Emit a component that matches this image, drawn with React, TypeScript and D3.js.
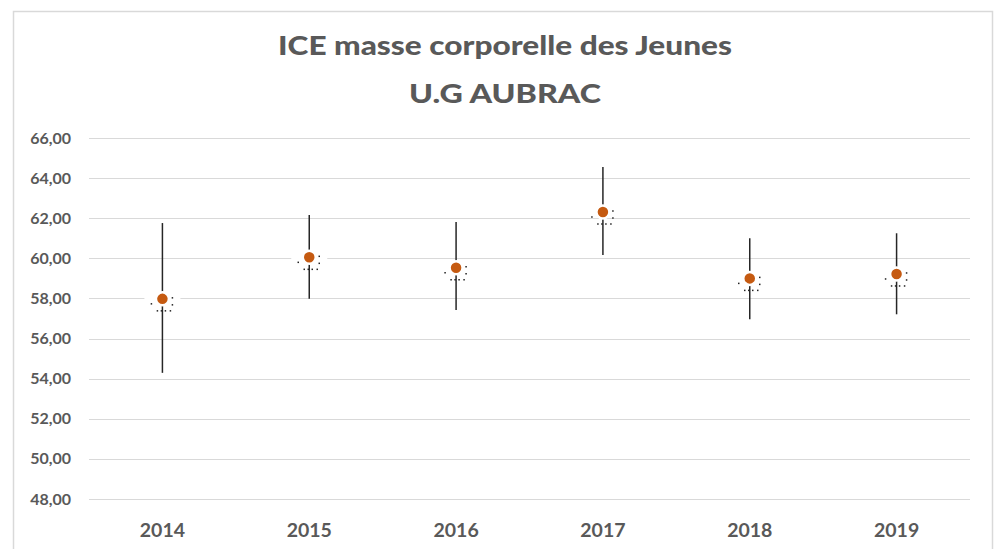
import React, { useEffect, useRef } from "react";
import * as d3 from "d3";

const years = ["2014", "2015", "2016", "2017", "2018", "2019"];
const means = [57.98, 60.05, 59.53, 62.31, 59.0, 59.22];
const lows = [54.29, 57.98, 57.43, 60.17, 56.96, 57.21];
const highs = [61.76, 62.16, 61.81, 64.55, 61.0, 61.25];
const yTicks = [48, 50, 52, 54, 56, 58, 60, 62, 64, 66];
const titleLines = ["ICE masse  corporelle  des Jeunes", "U.G AUBRAC"];

// little dotted artefact drawn around each marker
const dotOffsets = [
  [-11, 5], [-5, 12], [-1, 12], [3, 12], [8, 12], [10, 6], [10, -1],
];

const W = 998;
const H = 549;
const FONT = "Lato, 'Open Sans', sans-serif";
const TEXT = "#595959";

export default function App() {
  const ref = useRef<SVGSVGElement>(null);

  useEffect(() => {
    const svg = d3.select(ref.current);
    svg.selectAll("*").remove();

    const x = d3.scaleBand().domain(years).range([89, 970]).padding(0);
    const y = d3.scaleLinear().domain([48, 66]).range([499, 138]);

    svg.append("rect").attr("width", W).attr("height", H).attr("fill", "#fff");

    // chart frame
    svg
      .append("path")
      .attr("d", `M13.5,${H + 2} V11.5 H992.5 V${H + 2}`)
      .attr("fill", "none")
      .attr("stroke", "#d9d9d9")
      .attr("stroke-width", 1.5);

    // title
    svg
      .selectAll("text.title")
      .data(titleLines)
      .join("text")
      .attr("class", "title")
      .attr("x", 505)
      .attr("y", (_, i) => 55 + i * 48)
      .attr("text-anchor", "middle")
      .attr("font-family", FONT)
      .attr("font-weight", 900)
      .attr("font-size", 26)
      .attr("fill", TEXT)
      .attr("textLength", (_, i) => (i === 0 ? 454 : 192))
      .attr("lengthAdjust", "spacingAndGlyphs")
      .text((d) => d);

    // grid
    svg
      .append("g")
      .selectAll("line")
      .data(yTicks)
      .join("line")
      .attr("x1", 89)
      .attr("x2", 970)
      .attr("y1", (d) => Math.round(y(d)) + 0.5)
      .attr("y2", (d) => Math.round(y(d)) + 0.5)
      .attr("stroke", "#d9d9d9")
      .attr("stroke-width", 1);

    const fmt = (v: number) => v.toFixed(2).replace(".", ",");

    svg
      .append("g")
      .selectAll("text")
      .data(yTicks)
      .join("text")
      .attr("x", 71)
      .attr("y", (d) => y(d) + 5.5)
      .attr("text-anchor", "end")
      .attr("font-family", FONT)
      .attr("font-weight", "bold")
      .attr("font-size", 16)
      .attr("fill", TEXT)
      .text(fmt);

    svg
      .append("g")
      .selectAll("text")
      .data(years)
      .join("text")
      .attr("x", (d) => x(d)! + x.bandwidth() / 2)
      .attr("y", 537)
      .attr("text-anchor", "middle")
      .attr("font-family", FONT)
      .attr("font-weight", "bold")
      .attr("font-size", 19.5)
      .attr("fill", TEXT)
      .text((d) => d);

    const pts = years.map((yr, i) => ({
      cx: x(yr)! + x.bandwidth() / 2,
      m: y(means[i]),
      lo: y(lows[i]),
      hi: y(highs[i]),
    }));

    const g = svg.append("g");

    // white patch hiding the gridline behind each marker
    g.selectAll("rect.halo")
      .data(pts)
      .join("rect")
      .attr("class", "halo")
      .attr("x", (d) => d.cx - 18)
      .attr("y", (d) => d.m - 3)
      .attr("width", 36)
      .attr("height", 6)
      .attr("fill", "#fff");

    g.selectAll("line.whisker")
      .data(pts)
      .join("line")
      .attr("class", "whisker")
      .attr("x1", (d) => d.cx)
      .attr("x2", (d) => d.cx)
      .attr("y1", (d) => d.hi)
      .attr("y2", (d) => d.lo)
      .attr("stroke", "#262626")
      .attr("stroke-width", 1.5);

    g.selectAll("circle.mark")
      .data(pts)
      .join("circle")
      .attr("class", "mark")
      .attr("cx", (d) => d.cx)
      .attr("cy", (d) => d.m)
      .attr("r", 6.5)
      .attr("fill", "#c55a11")
      .attr("stroke", "#fff")
      .attr("stroke-width", 2.5);

    pts.forEach((p) => {
      g.append("g")
        .selectAll("rect")
        .data(dotOffsets)
        .join("rect")
        .attr("x", (d) => p.cx + d[0] - 0.75)
        .attr("y", (d) => p.m + d[1] - 0.75)
        .attr("width", 1.5)
        .attr("height", 1.5)
        .attr("fill", "#222");
    });
  }, []);

  return (
    <div style={{ position: "absolute", left: 0, top: 0 }}>
      <svg ref={ref} width={W} height={H} style={{ display: "block" }} />
    </div>
  );
}
